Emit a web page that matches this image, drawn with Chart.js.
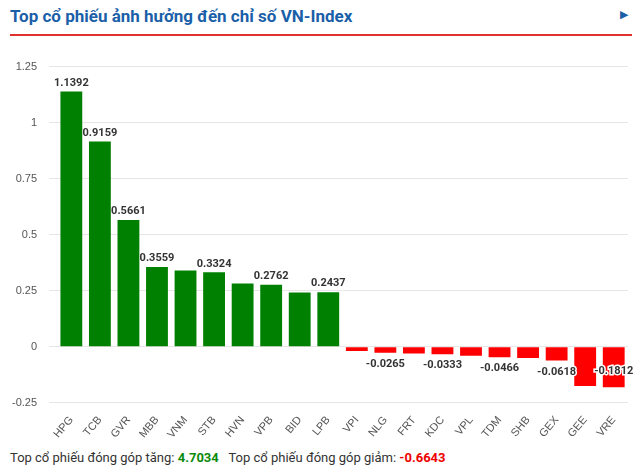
<!DOCTYPE html><html><head><meta charset="utf-8">
<script src="https://cdn.jsdelivr.net/npm/chart.js@4"></script>
<style>
body{margin:0;width:640px;height:475px;font-family:Roboto,Arial,sans-serif;background:#fff;position:relative;overflow:hidden}
#t{position:absolute;left:10px;top:6px;font-size:17px;font-weight:bold;color:#1a5fa8}
#ar{position:absolute;right:12px;top:8px;font-size:11px;color:#1a5fa8}
#ln{position:absolute;left:10px;right:8px;top:34px;height:2px;background:#e0312c}
#cw{position:absolute;left:0;top:48px;width:636px;height:396px}
#f{position:absolute;left:10px;top:450px;font-size:13px;color:#333}
</style></head><body>
<div id="t">Top cổ phiếu ảnh hưởng đến chỉ số VN-Index</div><div id="ar">▶</div><div id="ln"></div>
<div id="cw"><canvas id="c"></canvas></div>
<div id="f">Top cổ phiếu đóng góp tăng: <b style="color:#0a8a0a">4.7034</b> &nbsp;&nbsp;Top cổ phiếu đóng góp giảm: <b style="color:#e00">-0.6643</b></div>
<script>
const categories=["HPG","TCB","GVR","MBB","VNM","STB","HVN","VPB","BID","LPB","VPI","NLG","FRT","KDC","VPL","TDM","SHB","GEX","GEE","VRE"];
const values=[1.1392,0.9159,0.5661,0.3559,0.34,0.3324,0.282,0.2762,0.242,0.2437,-0.019,-0.0265,-0.03,-0.0333,-0.04,-0.0466,-0.05,-0.0618,-0.175,-0.1812];
const shownLabels=[0,1,2,3,5,7,9,11,13,15,17,19];
const yTicks=[-0.25,0,0.25,0.5,0.75,1,1.25];
const lbl={id:'lbl',afterDatasetsDraw(ch){const c=ch.ctx;const m=ch.getDatasetMeta(0);c.save();c.font='bold 11px Roboto, Arial';c.textAlign='center';c.fillStyle='#333';
m.data.forEach((b,i)=>{if(!shownLabels.includes(i))return;const v=values[i];const s=v.toFixed(4);
if(v>=0){c.textBaseline='bottom';c.fillText(s,b.x,b.y-3);}else{c.textBaseline='top';c.strokeStyle='#fff';c.lineWidth=3;const y=i==19?b.y-22:b.y+6;c.strokeText(s,b.x,y);c.fillText(s,b.x,y);}});c.restore();}};
new Chart(document.getElementById('c'),{type:'bar',data:{labels:categories,datasets:[{data:values,backgroundColor:values.map(v=>v>=0?'#008000':'#ff0000'),categoryPercentage:0.85,barPercentage:0.9}]},
options:{responsive:true,maintainAspectRatio:false,animation:false,layout:{padding:{left:0,right:8,top:16}},
plugins:{legend:{display:false},tooltip:{enabled:false}},
scales:{y:{min:-0.25,max:1.25,afterBuildTicks(a){a.ticks=yTicks.map(v=>({value:v}));},border:{display:false},grid:{color:'#e6e6e6'},ticks:{color:'#555',font:{size:11},padding:12,callback:v=>String(v)}},
x:{grid:{display:false},border:{display:false},ticks:{color:'#555',font:{size:11},maxRotation:50,minRotation:50}}}},plugins:[lbl]});
</script></body></html>
